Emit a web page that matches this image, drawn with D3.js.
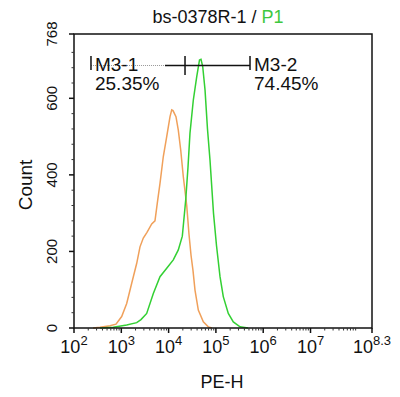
<!DOCTYPE html>
<html>
<head>
<meta charset="utf-8">
<script src="https://cdn.jsdelivr.net/npm/d3@7"></script>
<style>
  body { margin: 0; background: #fff; }
  text { font-family: "Liberation Sans", Arial, sans-serif; fill: #111; }
</style>
</head>
<body>
<div id="content"></div>
<script>
// histogram data, x in log10(PE-H), y in counts
var orangeX = [2.402, 2.550, 2.655, 2.761, 2.888, 3.008, 3.114, 3.220, 3.326, 3.395, 3.465, 3.543, 3.643, 3.712, 3.761, 3.818, 3.888, 3.960, 4.030, 4.066, 4.093, 4.156, 4.205, 4.256, 4.311, 4.383, 4.431, 4.474, 4.516, 4.558, 4.628, 4.734, 4.839, 4.918];
var orangeY = [0, 2, 4, 6, 10, 30, 64, 117, 169, 212, 235, 250, 272, 280, 326, 378, 448, 500, 552, 570, 568, 552, 517, 465, 395, 320, 245, 190, 150, 99, 47, 16, 3, 0];
var greenX = [2.550, 2.831, 3.114, 3.326, 3.416, 3.537, 3.677, 3.818, 3.960, 4.099, 4.205, 4.290, 4.362, 4.410, 4.452, 4.522, 4.594, 4.653, 4.685, 4.721, 4.770, 4.822, 4.875, 4.949, 5.013, 5.087, 5.156, 5.262, 5.368, 5.510, 5.679];
var greenY = [0, 2, 8, 14, 22, 38, 90, 134, 156, 178, 204, 240, 335, 420, 509, 595, 656, 700, 702, 683, 622, 520, 439, 300, 215, 134, 82, 38, 16, 3, 0];

var xMajor = [2, 3, 4, 5, 6, 7, 8.3];
var xLabels = ["2", "3", "4", "5", "6", "7", "8.3"];
var yMajor = [0, 200, 400, 600, 768];
var yMinor = [40, 80, 120, 160, 240, 280, 320, 360, 440, 480, 520, 560, 640, 680, 720];

// gates: name, from, to, percent
var gateNames = ["M3-1", "M3-2"];
var gateFrom = [2.359, 4.347];
var gateTo = [4.347, 5.721];
var gatePct = ["25.35%", "74.45%"];

var width = 400, height = 397;
var plot = {left: 74, right: 372, top: 34, bottom: 328};

var svg = d3.select("#content").append("svg")
    .attr("width", width)
    .attr("height", height);

var xScale = d3.scaleLinear().domain([2, 8.3]).range([plot.left, plot.right]);
var yScale = d3.scaleLinear().domain([0, 768]).range([plot.bottom, plot.top]);

// minor log ticks
var xMinor = [];
for (var d = 2; d < 8.3; d++) {
    for (var k = 2; k <= 9; k++) {
        var v = d + Math.log10(k);
        if (v < 8.3) xMinor.push(v);
    }
}

// title
var title = svg.append("text")
    .attr("x", 218)
    .attr("y", 23)
    .attr("text-anchor", "middle")
    .style("font-size", "18px");
title.append("tspan").text("bs-0378R-1 / ");
title.append("tspan").style("fill", "#3ec83e").text("P1");

// curves
var line = d3.line()
    .x(function(p) { return xScale(p[0]); })
    .y(function(p) { return yScale(p[1]); });

svg.append("path")
    .datum(d3.zip(orangeX, orangeY))
    .attr("d", line)
    .attr("fill", "none")
    .attr("stroke", "#f0a05a")
    .attr("stroke-width", 1.5);

svg.append("path")
    .datum(d3.zip(greenX, greenY))
    .attr("d", line)
    .attr("fill", "none")
    .attr("stroke", "#33d033")
    .attr("stroke-width", 1.5);

// frame
svg.append("rect")
    .attr("x", plot.left)
    .attr("y", plot.top)
    .attr("width", plot.right - plot.left)
    .attr("height", plot.bottom - plot.top)
    .attr("fill", "none")
    .attr("stroke", "#111")
    .attr("stroke-width", 1.5);

// x ticks
svg.selectAll(".xmaj").data(xMajor).enter().append("line")
    .attr("x1", function(d) { return xScale(d); })
    .attr("x2", function(d) { return xScale(d); })
    .attr("y1", plot.bottom).attr("y2", plot.bottom + 5)
    .attr("stroke", "#111").attr("stroke-width", 1.5);

svg.selectAll(".xmin").data(xMinor).enter().append("line")
    .attr("x1", function(d) { return xScale(d); })
    .attr("x2", function(d) { return xScale(d); })
    .attr("y1", plot.bottom).attr("y2", plot.bottom + 2.5)
    .attr("stroke", "#333").attr("stroke-width", 1);

var xl = svg.selectAll(".xlab").data(xMajor).enter().append("text")
    .attr("x", function(d) { return xScale(d); })
    .attr("y", 353)
    .attr("text-anchor", "middle")
    .style("font-size", "18px");
xl.append("tspan").text("10");
xl.append("tspan")
    .attr("dy", -8)
    .style("font-size", "13px")
    .text(function(d, i) { return xLabels[i]; });

// y ticks
svg.selectAll(".ymaj").data(yMajor).enter().append("line")
    .attr("x1", plot.left - 5).attr("x2", plot.left)
    .attr("y1", function(d) { return yScale(d); })
    .attr("y2", function(d) { return yScale(d); })
    .attr("stroke", "#111").attr("stroke-width", 1.5);

svg.selectAll(".ymin").data(yMinor).enter().append("line")
    .attr("x1", plot.left - 2.5).attr("x2", plot.left)
    .attr("y1", function(d) { return yScale(d); })
    .attr("y2", function(d) { return yScale(d); })
    .attr("stroke", "#333").attr("stroke-width", 1);

svg.selectAll(".ylab").data(yMajor).enter().append("text")
    .attr("transform", function(d) { return "translate(57," + yScale(d) + ") rotate(-90)"; })
    .attr("text-anchor", "middle")
    .style("font-size", "15px")
    .text(function(d) { return d; });

// axis titles
svg.append("text")
    .attr("x", 222)
    .attr("y", 388)
    .attr("text-anchor", "middle")
    .style("font-size", "18px")
    .text("PE-H");

svg.append("text")
    .attr("transform", "translate(32,185) rotate(-90)")
    .attr("text-anchor", "middle")
    .style("font-size", "19px")
    .text("Count");

// gates
var gy = 65.5;
svg.append("line")
    .attr("x1", xScale(gateFrom[0])).attr("x2", 165)
    .attr("y1", gy).attr("y2", gy)
    .attr("stroke", "#999").attr("stroke-width", 1)
    .attr("stroke-dasharray", "1,1");
svg.append("line")
    .attr("x1", 165).attr("x2", xScale(gateTo[1]))
    .attr("y1", gy).attr("y2", gy)
    .attr("stroke", "#111").attr("stroke-width", 1.5);

var bars = [gateFrom[0], gateFrom[1], gateTo[1]];
svg.selectAll(".gbar").data(bars).enter().append("line")
    .attr("x1", function(d) { return xScale(d); })
    .attr("x2", function(d) { return xScale(d); })
    .attr("y1", 56)
    .attr("y2", function(d, i) { return i === 1 ? 75 : 70; })
    .attr("stroke", "#111").attr("stroke-width", 1.5);

for (var i = 0; i < gateNames.length; i++) {
    var gx = xScale(i === 0 ? gateFrom[0] : gateTo[1]) + 4;
    svg.append("text").attr("x", gx).attr("y", 71)
        .style("font-size", "19px").text(gateNames[i]);
    svg.append("text").attr("x", gx).attr("y", 90)
        .style("font-size", "19px").text(gatePct[i]);
}
</script>
</body>
</html>
